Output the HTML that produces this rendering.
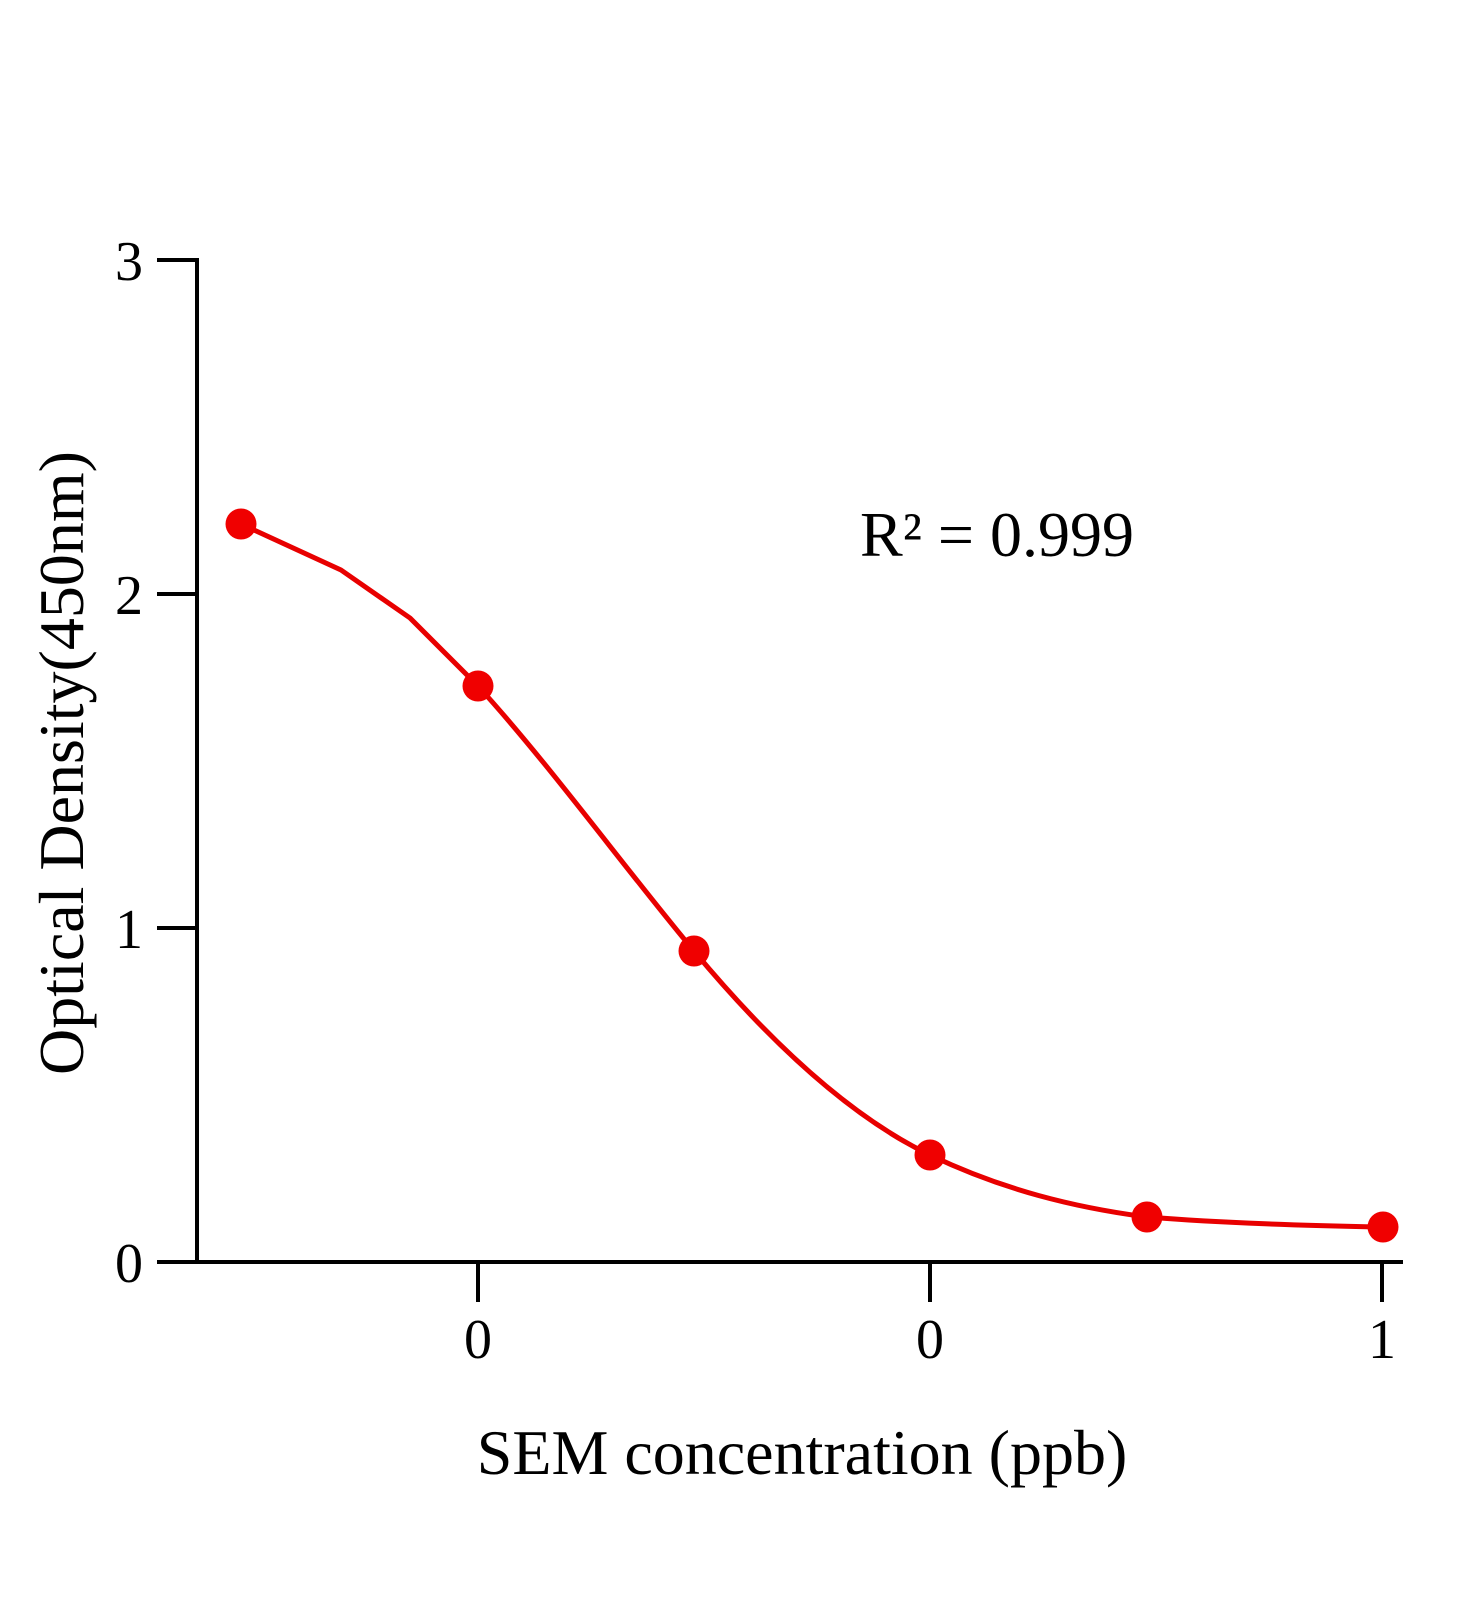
<!DOCTYPE html>
<html>
<head>
<meta charset="utf-8">
<style>
  html, body { margin: 0; padding: 0; background: #ffffff; }
  svg { display: block; }
  text { font-family: "Liberation Serif", "Times New Roman", serif; fill: #000; }
</style>
</head>
<body>
<svg width="1472" height="1600" viewBox="0 0 1472 1600" xmlns="http://www.w3.org/2000/svg">
  <rect width="1472" height="1600" fill="#ffffff"/>

  <!-- Axes -->
  <g stroke="#000" stroke-width="4" fill="none" stroke-linecap="butt">
    <line x1="197" y1="258" x2="197" y2="1262"/>
    <line x1="157" y1="1262" x2="1403" y2="1262"/>
    <!-- y ticks -->
    <line x1="157" y1="260" x2="199" y2="260"/>
    <line x1="157" y1="594" x2="197" y2="594"/>
    <line x1="157" y1="928" x2="197" y2="928"/>
    <!-- x ticks -->
    <line x1="478" y1="1262" x2="478" y2="1302"/>
    <line x1="930" y1="1262" x2="930" y2="1302"/>
    <line x1="1382" y1="1262" x2="1382" y2="1302"/>
  </g>

  <!-- Y tick labels -->
  <g font-size="56" text-anchor="end">
    <text x="143" y="280">3</text>
    <text x="143" y="614">2</text>
    <text x="143" y="948">1</text>
    <text x="143" y="1282">0</text>
  </g>

  <!-- X tick labels -->
  <g font-size="56" text-anchor="middle">
    <text x="478" y="1358">0</text>
    <text x="930" y="1358">0</text>
    <text x="1382" y="1358">1</text>
  </g>

  <!-- Axis titles -->
  <text x="802" y="1474" font-size="64" text-anchor="middle">SEM concentration (ppb)</text>
  <text transform="translate(83,763) rotate(-90)" font-size="64" text-anchor="middle">Optical Density(450nm)</text>

  <!-- R^2 -->
  <text x="860" y="556" font-size="64">R² = 0.999</text>

  <!-- Curve -->
  <path fill="none" stroke="#e80000" stroke-width="5" stroke-linejoin="round" stroke-linecap="round"
    d="M241,524 L341,570 L410,618 L478,686
       C550,765.2 622,864.6 694,951
       C772.7,1045.4 851.3,1117.2 930,1155
       C1002.3,1189.7 1074.7,1207.6 1147,1217
       C1225.7,1223.3 1304.3,1225.4 1383,1227"/>

  <!-- Points -->
  <g fill="#f00000">
    <circle cx="241" cy="524" r="15.5"/>
    <circle cx="478" cy="686" r="15.5"/>
    <circle cx="694" cy="951" r="15.5"/>
    <circle cx="930" cy="1155" r="15.5"/>
    <circle cx="1147" cy="1217" r="15.5"/>
    <circle cx="1383" cy="1227" r="15.5"/>
  </g>
</svg>
</body>
</html>
